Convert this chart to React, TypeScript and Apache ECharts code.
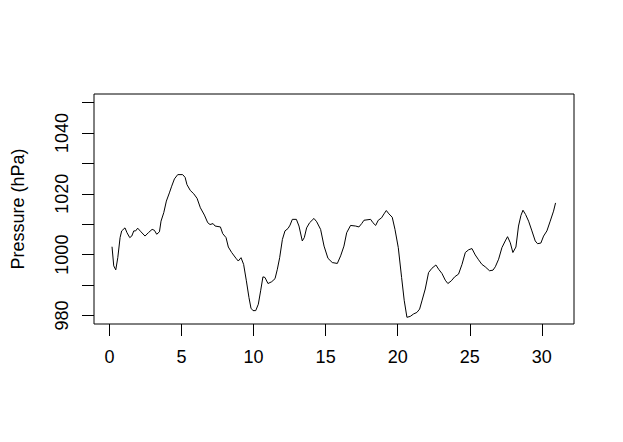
import React, { useEffect, useRef } from "react";
import * as echarts from "echarts";

// Day of month (x) and sea-level pressure in hPa (y)
const days = [
  0.18, 0.30, 0.44, 0.58, 0.74, 0.85, 1.08, 1.22, 1.41, 1.55, 1.69, 1.82, 1.96, 2.19, 2.47, 2.70, 2.96, 3.12, 3.28, 3.47,
  3.58, 3.77, 3.95, 4.16, 4.32, 4.51, 4.74, 5.08, 5.25, 5.38, 5.61, 5.85, 6.08, 6.31, 6.59, 6.82, 6.98, 7.19, 7.33, 7.70,
  7.86, 8.09, 8.25, 8.48, 8.78, 8.94, 9.13, 9.31, 9.50, 9.68, 9.82, 9.96, 10.15, 10.33, 10.49, 10.65, 10.79, 11.0, 11.26, 11.49,
  11.65, 11.81, 12.0, 12.18, 12.39, 12.53, 12.69, 12.97, 13.15, 13.38, 13.52, 13.68, 13.89, 14.19, 14.38, 14.65, 14.89, 15.16, 15.46, 15.81,
  16.04, 16.27, 16.46, 16.73, 17.08, 17.31, 17.5, 17.66, 18.12, 18.28, 18.47, 18.65, 18.88, 19.05, 19.21, 19.39, 19.62, 19.81, 20.04, 20.27,
  20.45, 20.64, 20.87, 21.10, 21.33, 21.52, 21.68, 21.91, 22.14, 22.37, 22.65, 22.84, 23.07, 23.30, 23.48, 23.72, 23.95, 24.22, 24.46, 24.69,
  24.92, 25.15, 25.38, 25.61, 25.84, 26.07, 26.37, 26.61, 26.77, 27.0, 27.23, 27.46, 27.62, 27.81, 27.99, 28.2, 28.38, 28.55, 28.69, 28.87,
  29.08, 29.31, 29.54, 29.70, 29.93, 30.12, 30.35, 30.58, 30.81, 30.95,
];
const pressure = [
  1002.6, 996.3, 995.0, 999.0, 1005.6, 1007.8, 1008.8, 1007.2, 1005.6, 1006.1, 1007.8, 1007.8, 1008.7, 1007.5, 1006.1, 1007.2, 1008.3, 1008.0, 1006.7, 1007.5,
  1011.0, 1013.8, 1017.6, 1020.3, 1022.5, 1024.9, 1026.3, 1026.3, 1025.4, 1023.0, 1021.1, 1020.0, 1018.5, 1015.4, 1013.0, 1010.5, 1009.9, 1010.2, 1009.4, 1009.1,
  1006.9, 1005.6, 1002.5, 1000.7, 998.8, 997.9, 999.0, 996.8, 991.4, 985.9, 982.4, 981.6, 981.6, 983.7, 988.1, 992.7, 992.5, 990.5, 991.1, 992.1,
  995.2, 999.0, 1005.0, 1007.8, 1008.6, 1009.7, 1011.6, 1011.6, 1009.4, 1004.5, 1005.6, 1008.8, 1010.5, 1011.9, 1010.8, 1008.3, 1002.8, 998.8, 997.4, 997.1,
  999.6, 1002.8, 1007.2, 1009.6, 1009.4, 1009.1, 1010.2, 1011.3, 1011.6, 1010.5, 1009.6, 1011.3, 1012.1, 1013.4, 1014.5, 1013.4, 1012.3, 1008.3, 1002.3, 992.5,
  985.0, 979.4, 979.7, 980.5, 981.0, 982.1, 984.8, 988.7, 994.1, 995.5, 996.6, 995.2, 993.8, 991.6, 990.5, 991.4, 992.7, 993.6, 996.8, 1000.7,
  1001.6, 1002.0, 999.9, 998.3, 996.8, 996.0, 994.7, 994.9, 996.0, 998.5, 1002.3, 1004.5, 1005.9, 1003.9, 1000.7, 1002.5, 1009.4, 1012.9, 1014.6, 1013.2,
  1011.0, 1007.8, 1004.5, 1003.6, 1003.8, 1006.1, 1007.8, 1011.0, 1014.3, 1017.0,
];

const xTicks = [0, 5, 10, 15, 20, 25, 30];
const yTicks = [980, 990, 1000, 1010, 1020, 1030, 1040, 1050];
const yLabels = [980, 1000, 1020, 1040];
const yTitle = "Pressure (hPa)";

const FONT = "'Liberation Sans', Arial, Helvetica, sans-serif";

export default function App() {
  const ref = useRef<HTMLDivElement>(null);
  useEffect(() => {
    if (!ref.current) return;
    const chart = echarts.init(ref.current, null, { renderer: "svg" });
    const data = days.map((d, i) => [d, pressure[i]]);
    chart.setOption({
      animation: false,
      backgroundColor: "#ffffff",
      grid: {
        left: 94,
        top: 94,
        width: 480,
        height: 230,
        show: true,
        borderColor: "#000",
        borderWidth: 1,
        backgroundColor: "transparent",
      },
      xAxis: {
        type: "value",
        min: -1.07,
        max: 32.23,
        splitLine: { show: false },
        axisLine: { show: false, onZero: false },
        axisTick: {
          show: true,
          customValues: xTicks,
          length: 12,
          inside: false,
          lineStyle: { color: "#000", width: 1 },
        },
        axisLabel: {
          customValues: xTicks,
          margin: 24,
          fontSize: 18,
          fontFamily: FONT,
          color: "#000",
          formatter: (v: number) => String(v),
        },
      },
      yAxis: {
        type: "value",
        min: 977.2,
        max: 1052.8,
        splitLine: { show: false },
        axisLine: { show: false, onZero: false },
        axisTick: {
          show: true,
          customValues: yTicks,
          length: 12,
          inside: false,
          lineStyle: { color: "#000", width: 1 },
        },
        axisLabel: {
          customValues: yLabels,
          rotate: 90,
          margin: 23,
          fontSize: 18,
          fontFamily: FONT,
          color: "#000",
          formatter: (v: number) => String(v),
        },
      },
      graphic: [
        {
          type: "text",
          x: 18,
          y: 209,
          rotation: Math.PI / 2,
          style: {
            text: yTitle,
            fontSize: 18,
            fontFamily: FONT,
            fill: "#000",
            align: "center",
            verticalAlign: "middle",
          },
        },
      ],
      series: [
        {
          type: "line",
          data,
          showSymbol: false,
          symbol: "none",
          lineStyle: { color: "#000", width: 1 },
          silent: true,
        },
      ],
    });
    return () => chart.dispose();
  }, []);
  return (
    <div
      ref={ref}
      style={{ position: "absolute", left: 0, top: 0, width: 623, height: 442 }}
    />
  );
}
